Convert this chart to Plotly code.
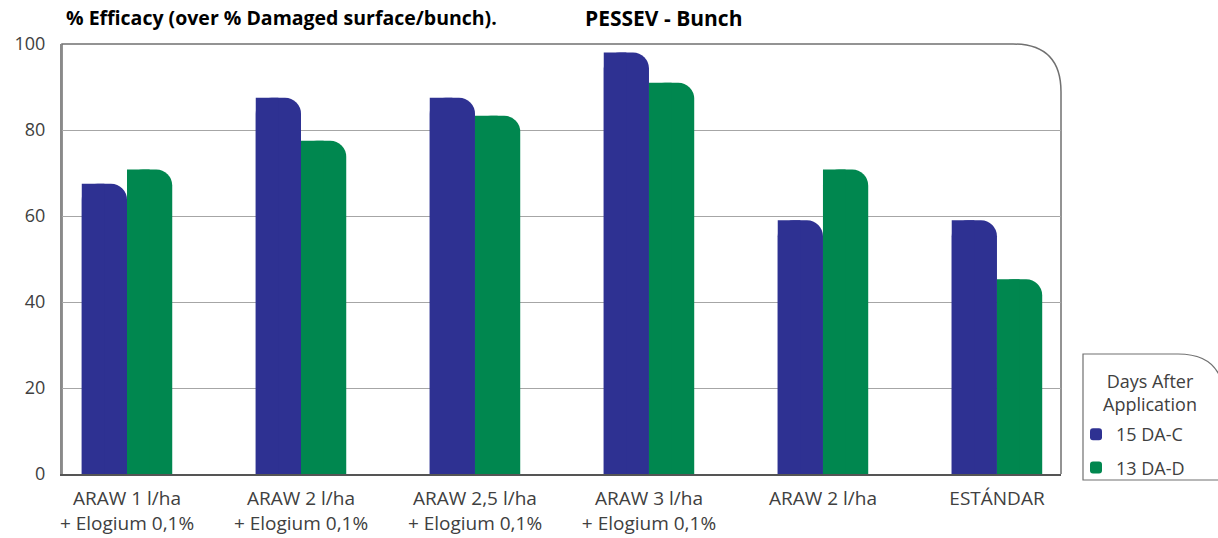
import plotly.graph_objects as go

categories = ["ARAW 1 l/ha<br>+ Elogium 0,1%", "ARAW 2 l/ha<br>+ Elogium 0,1%",
              "ARAW 2,5 l/ha<br>+ Elogium 0,1%", "ARAW 3 l/ha<br>+ Elogium 0,1%",
              "ARAW 2 l/ha", "ESTÁNDAR"]
series_names = ["15 DA-C", "13 DA-D"]
values_15dac = [67.5, 87.5, 87.5, 98.0, 59.0, 59.0]
values_13dad = [70.8, 77.5, 83.3, 91.0, 70.8, 45.3]
y_ticks = [0, 20, 40, 60, 80, 100]

BLUE = "#2E3192"
GREEN = "#00874F"
FONT = "Open Sans"
TXT = "#404040"

W, H = 1218, 538
ML, MR, MT, MB = 62, 157, 44, 64
PW, PH = W - ML - MR, H - MT - MB

xs = list(range(len(categories)))
bw = 0.26

fig = go.Figure()
for i, (name, vals, color, off) in enumerate([(series_names[0], values_15dac, BLUE, -bw),
                                              (series_names[1], values_13dad, GREEN, 0.0)]):
    fig.add_trace(go.Bar(x=xs, y=vals, name=name, width=bw, offset=off,
                         legendgroup=f"g{i}",
                         marker=dict(color=color, cornerradius=16, line=dict(width=0))))
for vals, color, off in [(values_15dac, BLUE, -bw), (values_13dad, GREEN, 0.0)]:
    fig.add_trace(go.Bar(x=xs, y=vals, width=bw / 2, offset=off, showlegend=False,
                         hoverinfo="skip",
                         marker=dict(color=color, cornerradius=0, line=dict(width=0))))

# plot frame with rounded top-right corner
rx, ry = 48 / PW, 48 / PH
frame_path = f"M 0,0 L 0,1 L {1-rx},1 Q 1,1 1,{1-ry} L 1,0"
shapes = [dict(type="path", xref="paper", yref="paper", path=frame_path,
               line=dict(color="#707070", width=1.5), layer="below")]


def px2x(p):
    return (p - ML) / PW


def py2y(p):
    return (H - MB - p) / PH


# legend frame with rounded top-right corner
lx0, lx1, ltop, lbot, lr = 1083, 1224, 354, 480, 46
leg_path = (f"M {px2x(lx0)},{py2y(lbot)} L {px2x(lx0)},{py2y(ltop)} "
            f"L {px2x(lx1-lr)},{py2y(ltop)} Q {px2x(lx1)},{py2y(ltop)} {px2x(lx1)},{py2y(ltop+lr)} "
            f"L {px2x(lx1)},{py2y(lbot)} Z")
shapes.append(dict(type="path", xref="paper", yref="paper", path=leg_path,
                   line=dict(color="#707070", width=1.2), fillcolor="white", layer="below"))

fig.update_layout(
    width=W, height=H,
    margin=dict(l=ML, r=MR, t=MT, b=MB, autoexpand=False),
    plot_bgcolor="white", paper_bgcolor="white",
    barmode="overlay",
    font=dict(family=FONT, size=18, color=TXT),
    title=dict(text="<b>% Efficacy (over % Damaged surface/bunch).</b>",
               x=66 / W, xanchor="left", xref="container",
               y=1 - 18 / H, yanchor="middle", yref="container",
               font=dict(family=FONT, size=19.5, color="black")),
    annotations=[
        dict(text="<b>PESSEV - Bunch</b>", xref="paper", yref="paper",
             x=px2x(583), y=py2y(18), xanchor="left", yanchor="middle",
             showarrow=False, font=dict(family=FONT, size=21, color="black")),
        dict(text="Days After<br>Application", xref="paper", yref="paper",
             x=px2x(1150), y=py2y(392), xanchor="center", yanchor="middle",
             showarrow=False, align="center", font=dict(family=FONT, size=18, color=TXT)),
    ],
    shapes=shapes,
    xaxis=dict(tickmode="array", tickvals=xs, ticktext=categories,
               range=[-0.3736, 5.368], showgrid=False, zeroline=False,
               showline=True, linecolor="#555555", linewidth=2,
               ticks="outside", ticklen=6, tickcolor="rgba(0,0,0,0)",
               automargin=False,
               tickfont=dict(size=19, color=TXT)),
    yaxis=dict(range=[0, 100], tickvals=y_ticks, showgrid=True,
               gridcolor="#a6a6a6", gridwidth=1, zeroline=False,
               showline=True, linecolor="#8a8a8a", linewidth=2,
               ticks="outside", ticklen=11, tickcolor="rgba(0,0,0,0)",
               automargin=False,
               tickfont=dict(size=18, color=TXT)),
    legend=dict(x=px2x(1076), y=py2y(416), xanchor="left", yanchor="top",
                bgcolor="rgba(0,0,0,0)", borderwidth=0,
                font=dict(size=18, color=TXT), tracegroupgap=7),
    showlegend=True,
)

fig.write_html("out.html", config={"displayModeBar": False},
               post_script="document.body.style.margin='0px';")
